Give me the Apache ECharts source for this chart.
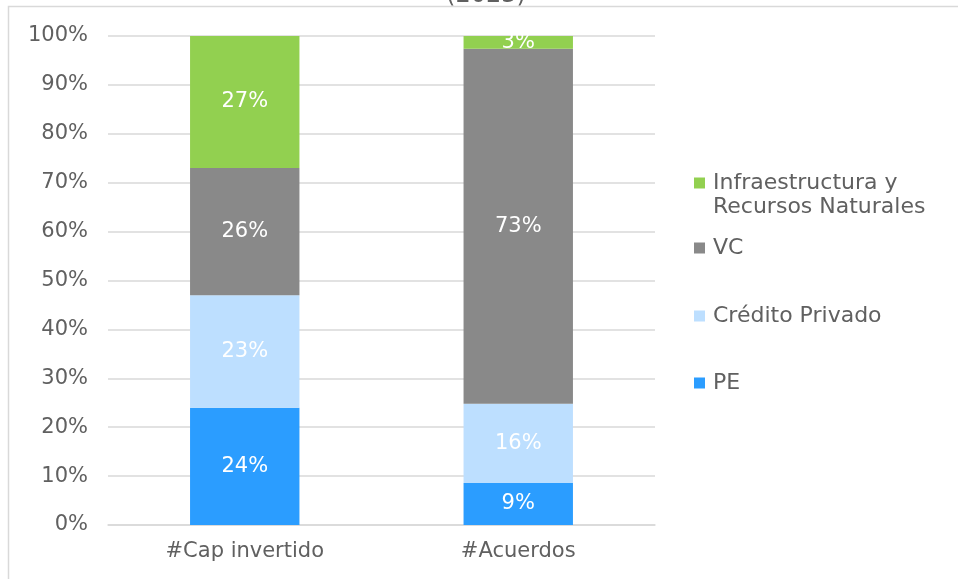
<!DOCTYPE html>
<html>
<head>
<meta charset="utf-8">
<script src="https://cdn.jsdelivr.net/npm/echarts@6/dist/echarts.min.js"></script>
<style>
  html, body { margin: 0; padding: 0; background: #fff; }
  #chart { width: 958px; height: 579px; }
</style>
</head>
<body>
<div id="chart"></div>
<script>
// datos
const categories = ['#Cap invertido', '#Acuerdos'];
const seriesNames = ['PE', 'Crédito Privado', 'VC', 'Infraestructura y\nRecursos Naturales'];
const pe = [24, 8.6];
const credito = [23, 16.2];
const vc = [26, 72.6];
const infra = [27, 2.6];
const yTicks = [0, 10, 20, 30, 40, 50, 60, 70, 80, 90, 100];

const colors = ['#2B9DFF', '#BDDFFF', '#898989', '#92D050'];
const font = '"DejaVu Sans", "Noto Sans", sans-serif';
const textColor = '#606060';

const chart = echarts.init(document.getElementById('chart'));

const values = [pe, credito, vc, infra];
const series = seriesNames.map((name, i) => ({
  name: name,
  type: 'bar',
  stack: 'total',
  barWidth: '40%',
  data: values[i],
  itemStyle: { color: colors[i] },
  label: {
    show: true,
    position: 'inside',
    color: '#fff',
    fontSize: 21,
    fontFamily: font,
    formatter: p => Math.round(p.value) + '%'
  }
}));

// una leyenda por elemento, como en el original
const legendTops = [371, 304, 236, 171];
const squareIcon = 'path://M0,0L11,0L11,11L0,11Z';
const topSquareIcon = 'path://M0,0L11,0L11,11L0,11Z M0,35L0,35';
const legends = seriesNames.map((name, i) => ({
  data: [name],
  left: 694,
  top: legendTops[i],
  padding: 0,
  orient: 'vertical',
  icon: i === 3 ? topSquareIcon : squareIcon,
  itemWidth: 11,
  itemHeight: i === 3 ? 35 : 11,
  selectedMode: false,
  textStyle: { color: textColor, fontSize: 22, fontFamily: font, lineHeight: 24, padding: [0, 0, 0, 3] }
}));

const option = {
  animation: false,
  title: {
    text: '(2023)',
    left: 481,
    textAlign: 'center',
    top: -21,
    textStyle: { color: textColor, fontSize: 24, fontWeight: 'normal', fontFamily: font }
  },
  graphic: [{
    type: 'rect',
    shape: { x: 8.5, y: 6.5, width: 2000, height: 2000 },
    style: { fill: 'none', stroke: '#d9d9d9', lineWidth: 1.5 },
    silent: true
  }],
  legend: legends,
  grid: { left: 108, right: 303, top: 36, bottom: 54 },
  xAxis: {
    type: 'category',
    data: categories,
    axisTick: { show: false },
    axisLine: { lineStyle: { color: '#d9d9d9', width: 1.5 } },
    axisLabel: { color: textColor, fontSize: 21, fontFamily: font, margin: 16 }
  },
  yAxis: {
    type: 'value',
    min: yTicks[0],
    max: yTicks[yTicks.length - 1],
    interval: 10,
    axisLine: { show: false },
    axisTick: { show: false },
    splitLine: { lineStyle: { color: '#d9d9d9', width: 1.5 } },
    axisLabel: { color: textColor, fontSize: 21, fontFamily: font, margin: 20, formatter: '{value}%' }
  },
  series: series
};

chart.setOption(option);
</script>
</body>
</html>
